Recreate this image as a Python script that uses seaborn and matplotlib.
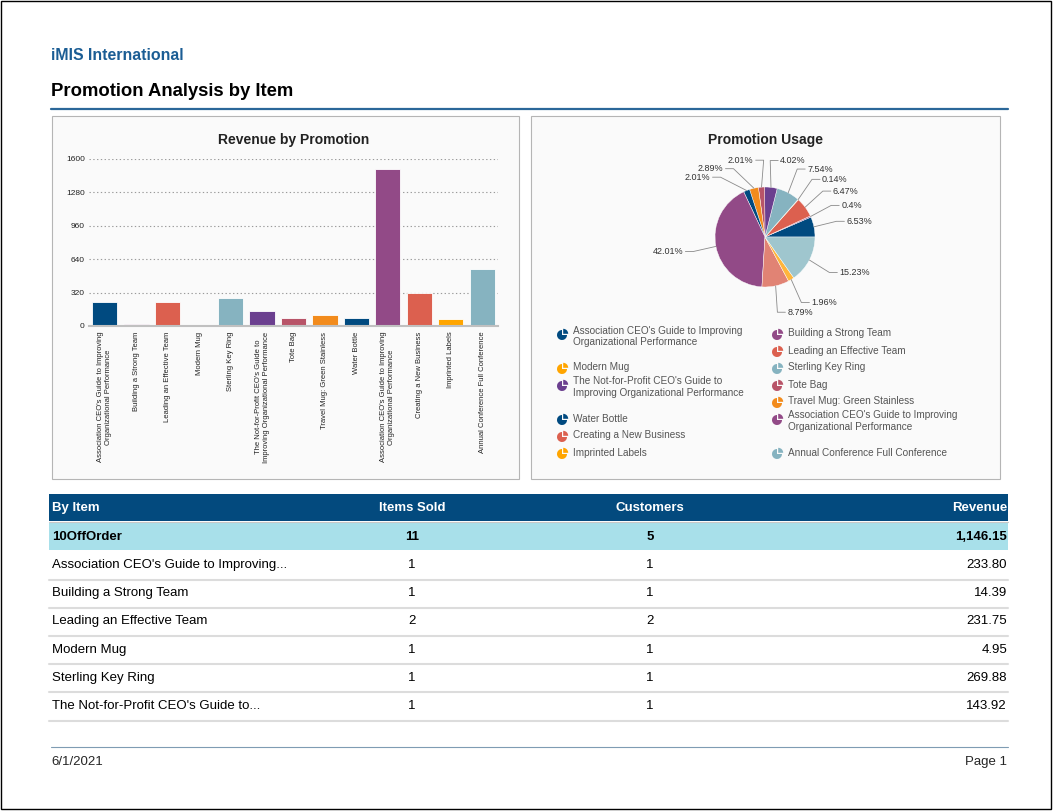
import textwrap
import numpy as np
import pandas as pd
import matplotlib
matplotlib.use('Agg')
import matplotlib.pyplot as plt
import seaborn as sns
from matplotlib.patches import Rectangle, Wedge

sns.set_style('white')
plt.rcParams['font.family'] = ['Liberation Sans', 'DejaVu Sans']

W, H = 1053, 811

# ---- data ----
promo_items = [
    "Association CEO's Guide to Improving Organizational Performance",
    "Building a Strong Team",
    "Leading an Effective Team",
    "Modern Mug",
    "Sterling Key Ring",
    "The Not-for-Profit CEO's Guide to Improving Organizational Performance",
    "Tote Bag",
    "Travel Mug: Green Stainless",
    "Water Bottle",
    "Association CEO's Guide to Improving Organizational Performance",
    "Creating a New Business",
    "Imprinted Labels",
    "Annual Conference Full Conference",
]
revenue = [233.80, 14.39, 231.75, 4.95, 269.88, 143.92, 71.96, 103.47, 71.96, 1504.10, 314.72, 70.18, 545.30]
usage_pct = [6.53, 0.4, 6.47, 0.14, 7.54, 4.02, 2.01, 2.89, 2.01, 42.01, 8.79, 1.96, 15.23]
yticks = [0, 320, 640, 960, 1280, 1600]

group_name = "10OffOrder"
group_sold = 11
group_customers = 5
group_revenue = 1146.15
table_items = ["Association CEO's Guide to Improving...", "Building a Strong Team",
               "Leading an Effective Team", "Modern Mug", "Sterling Key Ring",
               "The Not-for-Profit CEO's Guide to..."]
table_sold = [1, 1, 2, 1, 1, 1]
table_customers = [1, 1, 2, 1, 1, 1]
table_revenue = [233.80, 14.39, 231.75, 4.95, 269.88, 143.92]

# palette (cycles every 8)
base = ['#004a80', '#924a87', '#dc604f', '#ffa500', '#86b3c0', '#6b3f8f', '#b85468', '#f28b1c']
bar_colors = [base[i % 8] for i in range(len(revenue))]
pie_colors = list(bar_colors)
pie_colors[10] = '#e18374'
pie_colors[11] = '#ffb53c'
pie_colors[12] = '#9fc6ce'


def box(x0, y0, x1, y1):
    return [x0 / W, 1 - y1 / H, (x1 - x0) / W, (y1 - y0) / H]


fig = plt.figure(figsize=(W / 100, H / 100), dpi=100)
bg = fig.add_axes([0, 0, 1, 1])
bg.set_xlim(0, W)
bg.set_ylim(H, 0)
bg.axis('off')

# page frame + header
bg.add_patch(Rectangle((1, 1), 1050, 808, fill=False, edgecolor='black', lw=1))
bg.text(51, 55, 'iMIS International', color='#1b5d94', fontsize=11.4, fontweight='bold', va='center')
bg.text(51, 92, 'Promotion Analysis by Item', color='black', fontsize=13.3, fontweight='bold', va='center')
bg.plot([51, 1008], [109, 109], color='#2b6799', lw=1.6)

# chart panels
bg.add_patch(Rectangle((52, 116), 467, 363, facecolor='#fafafa', edgecolor='#b5b5b5', lw=0.8))
bg.add_patch(Rectangle((531, 116), 469, 363, facecolor='#fafafa', edgecolor='#b5b5b5', lw=0.8))
bg.text(294, 140, 'Revenue by Promotion', fontsize=10, fontweight='bold', ha='center', va='center', color='#222222')
bg.text(765, 140, 'Promotion Usage', fontsize=10, fontweight='bold', ha='center', va='center', color='#222222')

# ---- bar chart ----
ax = fig.add_axes(box(89, 159, 498, 326))
ax.patch.set_alpha(0)
keys = [str(i) for i in range(len(revenue))]
df = pd.DataFrame({'key': keys, 'revenue': revenue})
sns.barplot(data=df, x='key', y='revenue', hue='key', palette=dict(zip(keys, bar_colors)),
            dodge=False, legend=False, width=0.8, saturation=1,
            edgecolor='white', linewidth=0.6, ax=ax)
ax.set_xlim(-0.5, len(revenue) - 0.5)
ax.set_ylim(0, 1600)
ax.set_yticks(yticks)
ax.set_yticklabels([str(t) for t in yticks], fontsize=6, color='#222222')
ax.set_xticks(range(len(revenue)))
ax.set_xticklabels([textwrap.fill(s, 36) for s in promo_items], rotation=90, fontsize=5.5,
                   ha='center', va='top', multialignment='center', color='#222222')
ax.yaxis.grid(True, color='#9a9a9a', linestyle=(0, (1.2, 2.2)), lw=0.8)
ax.set_axisbelow(True)
for s in ['top', 'right', 'left']:
    ax.spines[s].set_visible(False)
ax.spines['bottom'].set_color('#c0c0c0')
ax.spines['bottom'].set_linewidth(1.5)
ax.tick_params(axis='y', length=0, pad=3)
ax.tick_params(axis='x', length=0, pad=4)
ax.set_xlabel('')
ax.set_ylabel('')

# ---- pie chart ----
cx, cy, unit = 765, 237, 50
pax = fig.add_axes(box(531, 116, 1000, 479))
pax.pie(usage_pct, colors=pie_colors, startangle=0, counterclock=True, radius=1, center=(0, 0),
        wedgeprops=dict(edgecolor='white', linewidth=0.3))
pax.set_xlim((531 - cx) / unit, (1000 - cx) / unit)
pax.set_ylim((cy - 479) / unit, (cy - 116) / unit)
pax.set_aspect('auto')
pax.axis('off')

# label placement with simple collision push on each side
pct = np.array(usage_pct)
ends = np.cumsum(pct) / pct.sum() * 360
mids = np.radians(ends - pct / pct.sum() * 180)
R = 1.54
gap = 0.17
ly = R * np.sin(mids)
right = np.cos(mids) >= 0
for side in [True, False]:
    idx = [i for i in np.argsort(-ly) if right[i] == side]
    prev = None
    for i in idx:
        if prev is not None and ly[i] > prev - gap:
            ly[i] = prev - gap
        prev = ly[i]
for i, p in enumerate(usage_pct):
    sgn = 1 if right[i] else -1
    lx = sgn * (np.sqrt(max(R ** 2 - ly[i] ** 2, 0)) + 0.12)
    ex, ey = np.cos(mids[i]), np.sin(mids[i])
    pax.plot([ex, lx - sgn * 0.2, lx - sgn * 0.04], [ey, ly[i], ly[i]], color='#8a8a8a', lw=0.6)
    pax.text(lx, ly[i], f'{p:g}%', fontsize=6.5, color='#333333', va='center',
             ha='left' if right[i] else 'right')

# legend (two columns, as laid out in the report)
leg_col = [0, 1, 1, 0, 1, 0, 1, 1, 0, 1, 0, 0, 1]
leg_y = [332, 335, 352, 369, 369, 383, 386, 403, 420, 417, 437, 454, 454]
for i, name in enumerate(promo_items):
    label = textwrap.fill(name, 36)
    two = '\n' in label
    ix = 562 if leg_col[i] == 0 else 777
    iy = leg_y[i] + (3 if two else 0)
    bg.add_patch(Wedge((ix, iy), 5, 0, 270, color=bar_colors[i], lw=0))
    bg.add_patch(Wedge((ix + 1.2, iy - 1.2), 5, 270, 360, color=bar_colors[i], lw=0))
    bg.text(ix + 11, leg_y[i] - 6.5, label, fontsize=7.2, color='#555555', va='top',
            linespacing=1.2)

# ---- table ----
cols_x = [52, 412, 650, 1007]
bg.add_patch(Rectangle((49, 494), 959, 27, facecolor='#034a7e', lw=0))
for x, t, ha in zip(cols_x, ['By Item', 'Items Sold', 'Customers', 'Revenue'],
                    ['left', 'center', 'center', 'right']):
    bg.text(x, 508, t, color='white', fontsize=9.5, fontweight='bold', ha=ha, va='center')
bg.plot([49, 1008], [522, 522], color='#c8c8c8', lw=0.8)
bg.add_patch(Rectangle((49, 523), 959, 27, facecolor='#a8e0ea', lw=0))
for x, t, ha in zip(cols_x, [group_name, str(group_sold), str(group_customers), f'{group_revenue:,.2f}'],
                    ['left', 'center', 'center', 'right']):
    bg.text(x, 537, t, color='black', fontsize=9.5, fontweight='bold', ha=ha, va='center')

for i, (name, sold, cust, rev) in enumerate(zip(table_items, table_sold, table_customers, table_revenue)):
    yc = 565 + 28.2 * i
    vals = [name, str(sold), str(cust), f'{rev:,.2f}']
    for x, t, ha in zip(cols_x, vals, ['left', 'center', 'center', 'right']):
        bg.text(x, yc, t, color='black', fontsize=9.5, ha=ha, va='center')
    bg.plot([49, 1008], [yc + 14.5, yc + 14.5], color='#dcdcdc', lw=1.5)

# footer
bg.plot([51, 1008], [747, 747], color='#7f9cb3', lw=0.8)
bg.text(51, 762, '6/1/2021', fontsize=9.5, va='center')
bg.text(1007, 762, 'Page 1', fontsize=9.5, va='center', ha='right')

fig.savefig('out.png', dpi=100)
